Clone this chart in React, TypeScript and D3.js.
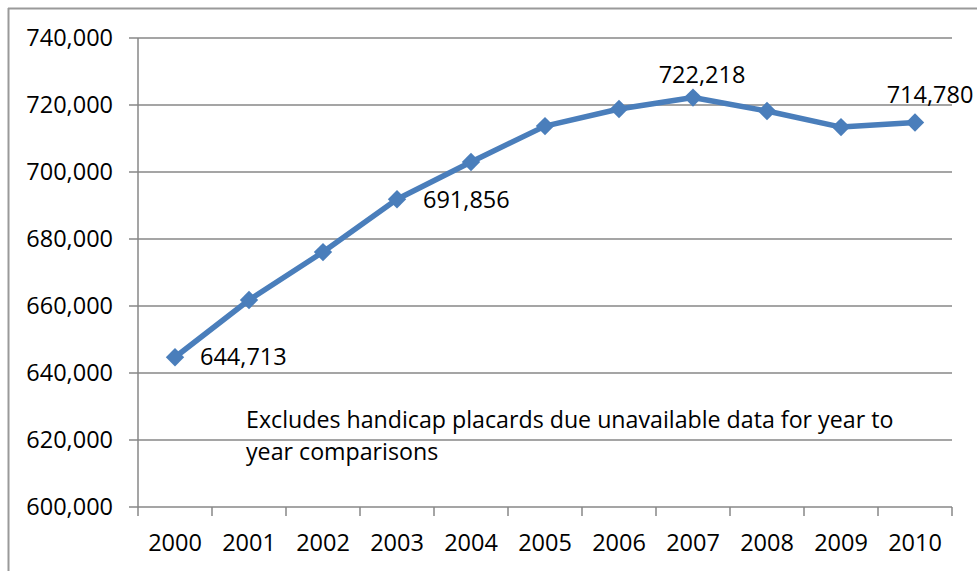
import React from "react";
import * as d3 from "d3";

const years = ["2000","2001","2002","2003","2004","2005","2006","2007","2008","2009","2010"];
const registrations = [644713, 661800, 676100, 691856, 703000, 713700, 718800, 722218, 718200, 713400, 714780];
const yTicks = [600000, 620000, 640000, 660000, 680000, 700000, 720000, 740000];
const labeledYears = ["2000", "2003", "2007", "2010"];
const noteLines = ["Excludes handicap placards due unavailable data for year to", "year comparisons"];

const W = 977, H = 571;
const left = 138, right = 952, top = 38, bottom = 507;
const FONT = "'Open Sans', sans-serif";
const GRID = "#878787";
const BLUE = "#4A7EBB";

export default function App() {
  const x = d3.scaleBand<string>().domain(years).range([left, right]).padding(0);
  const y = d3.scaleLinear().domain([600000, 740000]).range([bottom, top]);
  const cx = (yr: string) => (x(yr) as number) + x.bandwidth() / 2;
  const fmt = d3.format(",");
  const line = d3.line<number>().x((_, i) => cx(years[i])).y((d) => y(d));
  const diamond = d3.symbol().type(d3.symbolDiamond2).size(215)();

  const labelPos: Record<string, { dx: number; dy: number; anchor: string }> = {
    "2000": { dx: 25, dy: 8, anchor: "start" },
    "2003": { dx: 26, dy: 9, anchor: "start" },
    "2007": { dx: 9, dy: -15, anchor: "middle" },
    "2010": { dx: 15, dy: -19, anchor: "middle" },
  };

  return (
    <svg width={W} height={H} style={{ position: "absolute", left: 0, top: 0, display: "block", background: "#fff" }}>
      <line x1={8} y1={8.5} x2={W} y2={8.5} stroke="#9a9a9a" strokeWidth={2} />
      <line x1={8.5} y1={8} x2={8.5} y2={H} stroke="#9a9a9a" strokeWidth={2} />
      {yTicks.map((t) => (
        <g key={t}>
          <line x1={129} x2={right} y1={y(t)} y2={y(t)} stroke={GRID} strokeWidth={1.5} />
          <text x={113} y={y(t)} dy="0.35em" textAnchor="end" fontFamily={FONT} fontSize={23.5} fill="#000">{fmt(t)}</text>
        </g>
      ))}
      <line x1={left} x2={left} y1={top} y2={bottom} stroke={GRID} strokeWidth={1.5} />
      {years.concat(["end"]).map((yr, i) => {
        const xx = left + i * x.bandwidth();
        return <line key={yr} x1={xx} x2={xx} y1={bottom} y2={516} stroke={GRID} strokeWidth={1.5} />;
      })}
      {years.map((yr) => (
        <text key={yr} x={cx(yr)} y={543} dy="0.35em" textAnchor="middle" fontFamily={FONT} fontSize={23.5} fill="#000">{yr}</text>
      ))}
      <path d={line(registrations) || ""} fill="none" stroke={BLUE} strokeWidth={5.5} strokeLinejoin="round" />
      {registrations.map((v, i) => (
        <path key={i} d={diamond || ""} transform={`translate(${cx(years[i])},${y(v)})`} fill={BLUE} />
      ))}
      {registrations.map((v, i) => {
        const yr = years[i];
        if (!labeledYears.includes(yr)) return null;
        const p = labelPos[yr];
        return (
          <text key={yr} x={cx(yr) + p.dx} y={y(v) + p.dy} textAnchor={p.anchor} fontFamily={FONT} fontSize={23.5} fill="#000">{fmt(v)}</text>
        );
      })}
      {noteLines.map((l, i) => (
        <text key={i} x={246} y={428 + i * 32} fontFamily={FONT} fontSize={23.2} fill="#000">{l}</text>
      ))}
    </svg>
  );
}
